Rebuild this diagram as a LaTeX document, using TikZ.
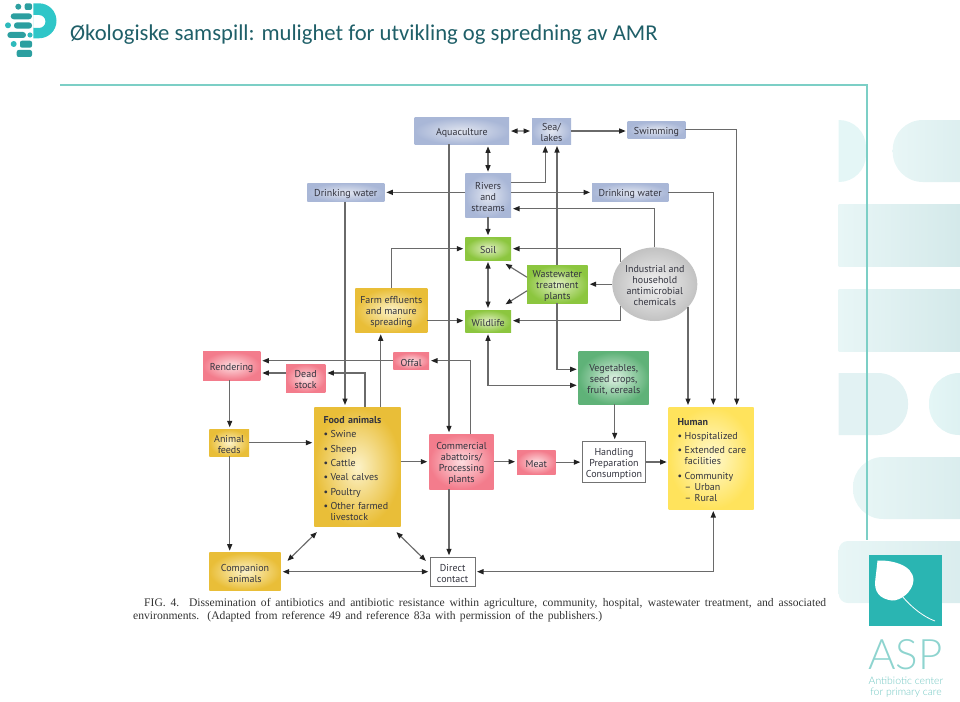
\documentclass[tikz,border=0pt]{standalone}
\usepackage{fontspec}
\usetikzlibrary{arrows.meta,shapes.geometric,calc}
\setmainfont{PT Sans}
\newfontfamily\titlefont{Carlito}
\newfontfamily\capfont{Liberation Serif}
\newfontfamily\brandfont{Lato Light}
\definecolor{linegray}{HTML}{6A6A6A}
\definecolor{tipdark}{HTML}{222222}
\definecolor{boxtext}{HTML}{33343F}
\definecolor{titleteal}{HTML}{1F5F68}
\definecolor{ruleteal}{HTML}{7CCFC6}
\definecolor{brandteal}{HTML}{2AB5B2}
\definecolor{brandsoft}{HTML}{8ED4CF}
\definecolor{brandtag}{HTML}{6FC6C1}
\definecolor{logobar}{HTML}{2C9FA0}
\definecolor{logobright}{HTML}{2FC6C8}
\definecolor{waterin}{HTML}{E2E6F0}\definecolor{waterout}{HTML}{A9B7D7}
\definecolor{envin}{HTML}{E2F0C4}\definecolor{envout}{HTML}{8CC63F}
\definecolor{farmin}{HTML}{FCF2C8}\definecolor{farmout}{HTML}{E9BE38}
\definecolor{meatin}{HTML}{FDDDE0}\definecolor{meatout}{HTML}{F37C8C}
\definecolor{cropin}{HTML}{DDF0E2}\definecolor{cropout}{HTML}{5FB278}
\definecolor{humanin}{HTML}{FFF9D0}\definecolor{humanout}{HTML}{FFE35C}
\definecolor{paleA}{HTML}{E8F6F6}\definecolor{paleB}{HTML}{D4E9EA}\definecolor{paleC}{HTML}{E4F6F6}
% A box given by its corners; the strut on the first line sets the text slightly low
\newcommand{\placebox}[7]{%
  \pgfmathsetmacro\boxW{#5-#3}\pgfmathsetmacro\boxH{#6-#4}%
  \node[#2,minimum width=\boxW pt,minimum height=\boxH pt,inner sep=0pt,outer sep=0pt]
    (#1) at ({(#3+#5)/2},{(#4+#6)/2}) {\rule{0pt}{10.5pt}#7};}
\newcommand{\li}[1]{\mbox{\makebox[7pt][l]{•}#1}}
\tikzset{
  label font/.style={font=\fontsize{10}{11}\selectfont,text=boxtext,align=center},
  waterbox/.style={label font,shade,inner color=waterin,outer color=waterout},
  envbox/.style={label font,shade,inner color=envin,outer color=envout},
  farmbox/.style={label font,shade,inner color=farmin,outer color=farmout},
  meatbox/.style={label font,shade,inner color=meatin,outer color=meatout},
  cropbox/.style={label font,shade,inner color=cropin,outer color=cropout},
  humanbox/.style={label font,shade,inner color=humanin,outer color=humanout},
  plainbox/.style={label font,draw=black!55,line width=.8pt,fill=white},
  conn/.style={draw=linegray,line width=1.15pt,shorten >=2pt,
    -{Triangle[length=6.5pt,width=5pt,color=tipdark]}},
  twoway/.style={draw=linegray,line width=1.15pt,shorten >=2pt,shorten <=2pt,
    {Triangle[length=6.5pt,width=5pt,color=tipdark]}-{Triangle[length=6.5pt,width=5pt,color=tipdark]}},
  pale/.style={left color=paleA,right color=paleB},
  logopart/.style={fill=logobar},
}
\begin{document}
\begin{tikzpicture}[x=1pt,y=-1pt]
\useasboundingbox (0,0) rectangle (960,701);

% Decorative pale bands along the right edge
\begin{scope}
  \clip (838.7,100) rectangle (960,701);
  \fill[paleC,rounded corners=27pt] (780,120) rectangle (866,182);
  \shade[pale,rounded corners=30pt] (892.7,120) rectangle (1010,182);
  \shade[pale] (838.7,204) rectangle (960,266);
  \shade[pale] (838.7,289) rectangle (960,351);
  \fill[paleA!70!paleB,rounded corners=30pt] (780,373) rectangle (908,435);
  \shade[left color=paleC,right color=paleB,rounded corners=30pt] (929,373) rectangle (1010,435);
  \shade[pale,rounded corners=30pt] (853,457) rectangle (1010,519);
  \shade[pale,rounded corners=9pt] (838.7,541) rectangle (1010,603);
\end{scope}

% Header rule and right rule
\draw[ruleteal,line width=1.4pt] (60,85) -- (867,85) -- (867,540);

% Title
\node[anchor=base west,inner sep=0pt,text=titleteal,font=\titlefont\fontsize{22.65}{24}\selectfont] (title) at (70,41)
  {Økologiske samspill: mulighet for utvikling og spredning av AMR};

% Top-left mark
\fill[logobright,even odd rule] (33.3,3.3) -- (39,3.3) arc (-90:90:17.5) -- (33.3,38.3) -- cycle
  (33.3,15) -- (39,15) arc (-90:90:6.5) -- (33.3,28) -- cycle;
\fill[logopart] (18.3,6.7) circle (3);
\fill[logopart,rounded corners=2pt] (24.7,3.3) rectangle (32,10);
\fill[logopart,rounded corners=3pt] (10.7,13.3) rectangle (32,19.3);
\fill[logobright!70!logobar] (8,25.3) circle (3);
\fill[logopart,rounded corners=3pt] (14,22.3) rectangle (32,28.7);
\fill[logopart,rounded corners=3pt] (7.3,32) rectangle (26,38);
\fill[logobright!70!logobar] (30,35) circle (2.6);
\fill[logobright!70!logobar] (13.7,44) circle (3);
\fill[logopart,rounded corners=2pt] (20,40.7) rectangle (32,47.7);
\fill[logopart,rounded corners=2pt] (16.7,50) rectangle (32,57);

% Water
\placebox{aqua}{waterbox}{414.7}{117.7}{509}{144.4}{Aquaculture}
\placebox{sea}{waterbox}{532}{118}{571}{144}{Sea/\\lakes}
\placebox{swim}{waterbox}{627.7}{121.7}{685.3}{138}{Swimming}
\placebox{rivers}{waterbox}{465.3}{173.7}{511}{217.3}{Rivers\\and\\streams}
\placebox{dwl}{waterbox}{307.3}{183}{384.3}{201.7}{Drinking water}
\placebox{dwr}{waterbox}{592}{183}{668.3}{201.7}{Drinking water}
% Environment
\placebox{soil}{envbox}{465.3}{237.3}{511}{260}{Soil}
\placebox{wild}{envbox}{465.3}{310}{511}{332.3}{Wildlife}
\placebox{wwtp}{envbox}{527}{265}{587.7}{303.3}{Wastewater\\treatment\\plants}
\node[label font,ellipse,shade,inner color=black!5,outer color=black!24,
  minimum width=85pt,minimum height=73.6pt,inner sep=0pt,outer sep=0pt] (chem) at (654.8,284.2)
  {\rule{0pt}{10.5pt}Industrial and\\household\\antimicrobial\\chemicals};
\placebox{veg}{cropbox}{578.7}{351.7}{648.7}{404.3}{Vegetables,\\seed crops,\\fruit, cereals}
% Farming
\placebox{farm}{farmbox}{355.3}{288.3}{427.3}{332.3}{Farm effluents\\and manure\\spreading}
\placebox{feeds}{farmbox}{209.3}{429.3}{249}{456.3}{Animal\\feeds}
\placebox{comp}{farmbox}{209.3}{552.7}{280.7}{590.3}{Companion\\animals}
\placebox{food}{farmbox,text width=68pt,align=left}{314.3}{407}{400.7}{526.7}{%
  \textbf{Food animals}\\[3.4pt]\li{Swine}\\[3.4pt]\li{Sheep}\\[3.4pt]\li{Cattle}\\[3.4pt]\li{Veal calves}\\[3.4pt]%
  \li{Poultry}\\[3.4pt]\li{Other farmed}\\\hspace*{7pt}livestock}
% Processing
\placebox{rend}{meatbox}{203}{351.7}{260.3}{380}{Rendering}
\placebox{dead}{meatbox}{286}{364}{325.3}{392.3}{Dead\\stock}
\placebox{offal}{meatbox}{393.3}{352.7}{429}{369}{Offal}
\placebox{plant}{meatbox}{429.3}{434.3}{493.7}{489.3}{Commercial\\abattoirs/\\Processing\\plants}
\placebox{meat}{meatbox}{517}{450.3}{555.7}{474}{Meat}
% Contact and people
\placebox{hand}{plainbox}{582.3}{441.3}{645.7}{482.7}{Handling\\Preparation\\Consumption}
\placebox{direct}{plainbox}{430.3}{557.3}{475}{586}{Direct\\contact}
\placebox{human}{humanbox,text width=67pt,align=left}{668.7}{407}{753.7}{509}{%
  \textbf{Human}\\[3.4pt]\li{Hospitalized}\\[3.4pt]\li{Extended care}\\\hspace*{7pt}facilities\\[3.4pt]%
  \li{Community}\\\hspace*{7pt}– Urban\\\hspace*{7pt}– Rural}

% Routing lanes shared by several connectors
\coordinate (xAqua) at (449,0);
\coordinate (xCentre) at (488,0);
\coordinate (xSeaA) at (545.3,0);
\coordinate (xSeaB) at (557,0);
\coordinate (xSwim) at (736.7,0);
\coordinate (xDrinkR) at (713.3,0);
\coordinate (xDrinkL) at (345,0);
\coordinate (xFarmUp) at (380.7,0);
\coordinate (xFarmSoil) at (391.7,0);
\coordinate (xDead) at (365,0);
\coordinate (xOffal) at (470.7,0);
\coordinate (xFeed) at (229.7,0);
\coordinate (xVeg) at (614.7,0);
\coordinate (yRiver) at (0,182.7);
\coordinate (yChemRiver) at (0,208.7);
\coordinate (ySoil) at (0,248.7);
\coordinate (yWild) at (0,320.7);
\coordinate (yOffal) at (0,360.7);
\coordinate (yDead) at (0,373);
\coordinate (yVegA) at (0,369.3);
\coordinate (yVegB) at (0,385.3);
\coordinate (yFeed) at (0,442.7);
\coordinate (yChain) at (0,461.7);
\coordinate (yContact) at (0,571.7);
\coordinate (chemUL) at (620.7,262);
\coordinate (chemLL) at (620.7,306.2);
\coordinate (chemLR) at (688,307.2);

% Connectors
\draw[twoway] (aqua.east) -- (sea.west);
\draw[conn] (sea.east) -- (sea.east -| swim.west);
\draw[conn] (swim.east) -| (human.north -| xSwim);
\draw[twoway] (aqua.south -| xCentre) -- (rivers.north -| xCentre);
\draw[conn] (aqua.south -| xAqua) -- (plant.north -| xAqua);
\draw[conn] (rivers.east |- yRiver) -| (sea.south -| xSeaA);
\draw[conn] (wwtp.north -| xSeaB) -- (sea.south -| xSeaB);
\draw[conn] (rivers.west |- dwl.east) -- (dwl.east);
\draw[conn] (rivers.east |- dwr.west) -- (dwr.west);
\draw[conn] (dwr.east) -| (human.north -| xDrinkR);
\draw[conn] (dwl.south -| xDrinkL) -- (food.north -| xDrinkL);
\draw[conn] (rivers.south -| xCentre) -- (soil.north -| xCentre);
\draw[conn] (chem.north) |- (rivers.east |- yChemRiver);
\draw[conn] (chemUL) |- (soil.east |- ySoil);
\draw[conn] (chemLL) |- (wild.east |- yWild);
\draw[conn] (chem.west) -- (chem.west -| wwtp.east);
\draw[conn] (chemLR) -- (human.north -| chemLR);
\draw[conn] ($(wwtp.west)+(0,-6.9)$) -- ($(soil.south east)+(-7.2,2.8)$);
\draw[conn] ($(wwtp.west)+(0,6.6)$) -- ($(wild.north east)+(-7.2,-4.6)$);
\draw[twoway] (soil.south -| xCentre) -- (wild.north -| xCentre);
\draw[conn] (farm.north -| xFarmSoil) |- (soil.west |- ySoil);
\draw[conn] (farm.east |- yWild) -- (wild.west |- yWild);
\draw[conn] (food.north -| xFarmUp) -- (farm.south -| xFarmUp);
\draw[conn] (offal.west |- yOffal) -- (rend.east |- yOffal);
\draw[conn] (plant.north -| xOffal) |- (offal.east |- yOffal);
\draw[conn] (food.north -| xDead) |- (dead.east |- yDead);
\draw[conn] (dead.west |- yDead) -- (rend.east |- yDead);
\draw[conn] (rend.south -| xFeed) -- (feeds.north -| xFeed);
\draw[conn] (feeds.east |- yFeed) -- (food.west |- yFeed);
\draw[conn] (feeds.south -| xFeed) -- (comp.north -| xFeed);
\draw[twoway] ($(food.south west)+(4,4)$) -- ($(comp.north east)+(5.3,9.6)$);
\draw[twoway] ($(food.south east)+(-5.7,4)$) -- ($(direct.north west)+(-3,5)$);
\draw[twoway] (comp.east |- yContact) -- (direct.west |- yContact);
\draw[conn] (plant.south -| xAqua) -- (direct.north -| xAqua);
\draw[twoway] (direct.east |- yContact) -| (human.south -| xDrinkR);
\draw[conn] (food.east |- yChain) -- (plant.west |- yChain);
\draw[conn] (plant.east |- yChain) -- (meat.west |- yChain);
\draw[conn] (meat.east) -- (meat.east -| hand.west);
\draw[conn] (hand.east) -- (hand.east -| human.west);
\draw[conn] (veg.south -| xVeg) -- (hand.north -| xVeg);
\draw[conn] (wwtp.south -| xSeaB) |- (veg.west |- yVegA);
\draw[twoway] (wild.south -| xCentre) |- (veg.west |- yVegB);

% Figure caption
\node[anchor=base west,inner sep=0pt,text=black!80,font=\capfont\fontsize{11.6}{12}\selectfont] (capA) at (144,606.5)
  {\makebox[682pt][s]{FIG. 4. Dissemination of antibiotics and antibiotic resistance within agriculture, community, hospital, wastewater treatment, and associated}};
\node[anchor=base west,inner sep=0pt,text=black!80,font=\capfont\fontsize{11.6}{12}\selectfont] (capB) at (133,619.5)
  {\makebox[469pt][s]{environments. (Adapted from reference 49 and reference 83a with permission of the publishers.)}};

% Centre badge
\node[fill=brandteal,minimum width=73pt,minimum height=71pt,inner sep=0pt] (badge) at (905.5,590.5) {};
\fill[white] (877.5,560.5) .. controls (890,560) and (913,564) .. (913.5,580)
  .. controls (913,592) and (900,601) .. (892,600.5)
  .. controls (880,599) and (873,592) .. (875.5,578) .. controls (876.5,570) and (877,565) .. (877.5,560.5) -- cycle;
\draw[white,line width=.8pt] (902,596) .. controls (912,608) and (924,617) .. (935,621);
\node[anchor=base,inner sep=0pt,text=brandsoft,font=\brandfont\fontsize{42}{44}\selectfont] (asp) at (905.5,669) {ASP};
\node[anchor=base,inner sep=0pt,text=brandtag,font=\brandfont\fontsize{10.4}{11}\selectfont] (tagA) at (906,684) {Antibiotic center};
\node[anchor=base,inner sep=0pt,text=brandtag,font=\brandfont\fontsize{10.4}{11}\selectfont] (tagB) at (906,695) {for primary care};
\end{tikzpicture}
\end{document}
